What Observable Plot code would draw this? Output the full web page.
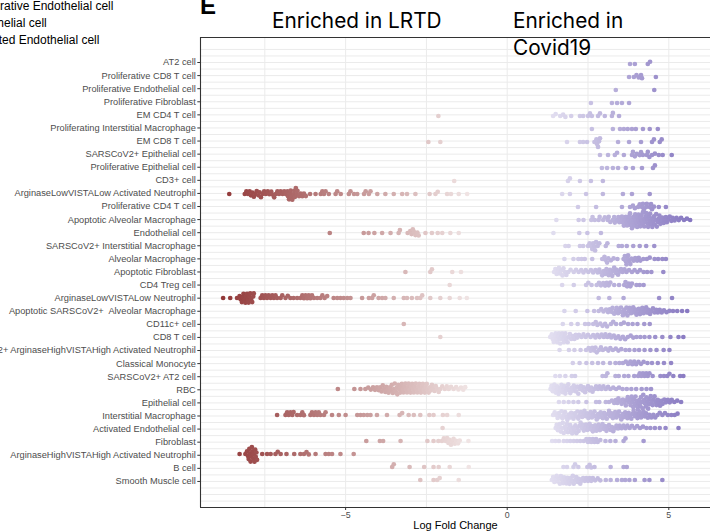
<!DOCTYPE html>
<html>
<head>
<meta charset="utf-8">
<script src="https://cdn.jsdelivr.net/npm/d3@7"></script>
<script src="https://cdn.jsdelivr.net/npm/@observablehq/plot@0.6"></script>
<style>
  body { margin: 0; background: #fff; }
  #wrap { position: relative; width: 710px; height: 532px; overflow: hidden; }
  #wrap svg { position: absolute; left: 0; top: 0; }
</style>
</head>
<body>
<div id="wrap"></div>
<script>
// Cell types, top to bottom
const cells = [
  "AT2 cell",
  "Proliferative CD8 T cell",
  "Proliferative Endothelial cell",
  "Proliferative Fibroblast",
  "EM CD4 T cell",
  "Proliferating Interstitial Macrophage",
  "EM CD8 T cell",
  "SARSCoV2+ Epithelial cell",
  "Proliferative Epithelial cell",
  "CD3+ cell",
  "ArginaseLowVISTALow Activated Neutrophil",
  "Proliferative CD4 T cell",
  "Apoptotic Alveolar Macrophage",
  "Endothelial cell",
  "SARSCoV2+ Interstitial Macrophage",
  "Alveolar Macrophage",
  "Apoptotic Fibroblast",
  "CD4 Treg cell",
  "ArginaseLowVISTALow Neutrophil",
  "Apoptotic SARSCoV2+  Alveolar Macrophage",
  "CD11c+ cell",
  "CD8 T cell",
  "SARSCoV2+ ArginaseHighVISTAHigh Activated Neutrophil",
  "Classical Monocyte",
  "SARSCoV2+ AT2 cell",
  "RBC",
  "Epithelial cell",
  "Interstitial Macrophage",
  "Activated Endothelial cell",
  "Fibroblast",
  "ArginaseHighVISTAHigh Activated Neutrophil",
  "B cell",
  "Smooth Muscle cell"
];

// Log fold change of each neighbourhood, one list per cell type (same order as cells)
const logFC = [
  /* AT2 cell */ [3.8, 3.95, 4.35, 4.42],
  /* Proliferative CD8 T cell */ [3.77, 3.92, 4.0, 4.07, 4.14, 4.17, 4.6],
  /* Proliferative Endothelial cell */ [3.36, 4.55],
  /* Proliferative Fibroblast */ [2.59, 3.24, 3.4, 3.55, 3.77],
  /* EM CD4 T cell */ [-2.13, 1.42, 1.5, 1.64, 1.73, 1.8, 1.98, 2.25, 2.35, 2.5, 2.56, 2.62, 2.81, 2.87, 3.02, 3.24, 3.27, 3.46],
  /* Proliferating Interstitial Macrophage */ [2.62, 3.27, 3.49, 3.61, 3.73, 3.86, 3.98, 4.2, 4.41, 4.66],
  /* EM CD8 T cell */ [-2.44, -2.07, 1.85, 2.25, 2.35, 2.47, 2.7, 2.76, 2.78, 2.81, 2.84, 2.87, 3.43, 3.77, 4.14, 4.48, 4.54, 4.72, 4.78],
  /* SARSCoV2+ Epithelial cell */ [2.87, 3.12, 3.33, 3.4, 3.61, 3.86, 3.89, 3.95, 4.01, 4.1, 4.14, 4.2, 4.32, 4.35, 4.4, 4.48, 4.57, 4.69, 4.81, 5.09],
  /* Proliferative Epithelial cell */ [2.93, 3.09, 3.27, 3.43, 3.67, 3.89, 4.17, 4.51, 4.57],
  /* CD3+ cell */ [-1.64, 1.88, 1.94, 2.25, 2.59, 2.96],
  /* ArginaseLowVISTALow Activated Neutrophil */ [-8.6, -8.12, -8.07, -8.02, -7.97, -7.93, -7.88, -7.84, -7.79, -7.75, -7.7, -7.66, -7.62, -7.57, -7.52, -7.47, -7.41, -7.36, -7.3, -7.26, -7.21, -7.16, -7.11, -7.06, -7.01, -6.95, -6.9, -6.85, -6.8, -6.78, -6.75, -6.72, -6.7, -6.68, -6.65, -6.61, -6.59, -6.57, -6.54, -6.51, -6.49, -6.44, -6.39, -6.34, -6.29, -6.23, -6.1, -5.93, -5.77, -5.72, -5.67, -5.62, -5.52, -5.31, -5.26, -5.15, -4.9, -4.85, -4.74, -4.64, -4.43, -4.38, -4.28, -4.23, -4.02, -3.77, -3.51, -3.25, -3.1, -2.84, -2.4, -2.22, -2.15, -1.86, -1.74, -1.5, -1.24, 1.7, 1.94, 2.44, 2.96, 3.58, 3.86, 4.41],
  /* Proliferative CD4 T cell */ [2.19, 2.75, 3.55, 3.8, 3.89, 3.95, 4.05, 4.1, 4.17, 4.2, 4.23, 4.3, 4.32, 4.41, 4.45, 4.48, 4.54, 4.69, 4.91],
  /* Apoptotic Alveolar Macrophage */ [1.52, 2.21, 2.36, 2.6, 2.64, 2.71, 2.83, 2.86, 2.97, 3.02, 3.11, 3.14, 3.19, 3.27, 3.31, 3.33, 3.4, 3.44, 3.47, 3.53, 3.55, 3.58, 3.61, 3.63, 3.67, 3.69, 3.71, 3.74, 3.77, 3.79, 3.8, 3.83, 3.85, 3.86, 3.89, 3.9, 3.93, 3.95, 3.96, 3.99, 4.01, 4.02, 4.05, 4.06, 4.09, 4.11, 4.12, 4.15, 4.16, 4.19, 4.2, 4.23, 4.24, 4.27, 4.29, 4.3, 4.33, 4.35, 4.36, 4.39, 4.41, 4.42, 4.45, 4.47, 4.49, 4.51, 4.54, 4.56, 4.59, 4.61, 4.63, 4.66, 4.69, 4.71, 4.74, 4.77, 4.8, 4.84, 4.87, 4.91, 4.94, 4.99, 5.03, 5.08, 5.12, 5.18, 5.24, 5.31, 5.38, 5.47, 5.56, 5.66],
  /* Endothelial cell */ [-5.49, -4.44, -4.29, -4.11, -3.87, -3.61, -3.36, -3.32, -3.08, -3.0, -2.96, -2.92, -2.88, -2.84, -2.78, -2.74, -2.53, -2.33, -2.15, -2.01, -1.76, -1.5, 1.43, 2.23, 2.48, 2.9],
  /* SARSCoV2+ Interstitial Macrophage */ [1.8, 1.9, 2.25, 2.35, 2.5, 2.55, 2.6, 2.63, 2.66, 2.7, 2.72, 2.75, 2.8, 2.85, 3.05, 3.1, 3.45, 3.55, 3.7, 3.9, 4.1, 4.3, 4.55],
  /* Alveolar Macrophage */ [1.77, 2.05, 2.2, 2.3, 2.4, 2.63, 2.94, 3.01, 3.04, 3.09, 3.13, 3.21, 3.29, 3.41, 3.6, 3.64, 3.67, 3.69, 3.72, 3.74, 3.78, 3.81, 3.84, 3.91, 3.96, 4.02, 4.07, 4.12, 4.21, 4.32, 4.41, 4.56, 4.67, 4.8, 4.91],
  /* Apoptotic Fibroblast */ [-3.15, -2.38, -2.33, -1.7, -1.43, 1.45, 1.49, 1.53, 1.57, 1.6, 1.63, 1.67, 1.71, 1.74, 1.79, 1.83, 1.89, 1.96, 2.06, 2.13, 2.21, 2.29, 2.36, 2.43, 2.51, 2.59, 2.66, 2.73, 2.8, 2.85, 2.9, 2.94, 2.99, 3.03, 3.07, 3.11, 3.14, 3.18, 3.21, 3.25, 3.28, 3.31, 3.35, 3.39, 3.43, 3.47, 3.52, 3.57, 3.63, 3.69, 3.77, 3.86, 3.94, 4.03, 4.11, 4.22, 4.33, 4.46, 4.83],
  /* CD4 Treg cell */ [-1.78, 1.7, 2.06, 2.44, 2.51, 2.61, 2.77, 2.84, 2.9, 2.97, 3.03, 3.08, 3.14, 3.19, 3.31, 3.46, 3.62, 3.66, 3.71, 3.76, 3.81, 3.86, 4.0, 4.1, 4.22],
  /* ArginaseLowVISTALow Neutrophil */ [-8.79, -8.57, -8.36, -8.28, -8.25, -8.21, -8.18, -8.16, -8.13, -8.1, -8.08, -8.05, -8.02, -8.0, -7.98, -7.95, -7.92, -7.89, -7.86, -7.84, -7.63, -7.58, -7.53, -7.48, -7.43, -7.38, -7.32, -7.27, -7.22, -7.17, -7.12, -7.01, -6.96, -6.86, -6.79, -6.71, -6.61, -6.5, -6.4, -6.34, -6.29, -6.24, -6.19, -6.14, -6.09, -6.04, -5.98, -5.88, -5.78, -5.72, -5.65, -5.57, -5.37, -5.26, -5.16, -5.06, -4.95, -4.85, -4.49, -4.28, -4.18, -4.13, -3.98, -3.87, -3.77, -3.51, -3.2, -3.1, -2.95, -2.79, -2.69, -2.63, -2.38, -2.07, -1.78, -1.47, -1.25, 2.83, 3.16, 3.6, 4.7, 5.1],
  /* Apoptotic SARSCoV2+ Alveolar Macrophage */ [1.77, 2.12, 2.48, 2.69, 2.83, 2.91, 2.98, 3.06, 3.12, 3.17, 3.23, 3.26, 3.31, 3.36, 3.39, 3.43, 3.47, 3.52, 3.55, 3.58, 3.62, 3.66, 3.69, 3.72, 3.76, 3.79, 3.83, 3.86, 3.9, 3.93, 3.97, 4.0, 4.04, 4.07, 4.11, 4.15, 4.18, 4.22, 4.26, 4.3, 4.33, 4.38, 4.42, 4.47, 4.51, 4.56, 4.61, 4.66, 4.72, 4.78, 4.85, 4.93, 5.02, 5.13, 5.26, 5.41, 5.57],
  /* CD11c+ cell */ [-3.2, 1.72, 1.98, 2.18, 2.41, 2.52, 2.66, 2.74, 2.79, 2.88, 2.95, 3.03, 3.09, 3.21, 3.28, 3.37, 3.52, 3.61, 3.74, 3.88, 4.03, 4.24, 4.41],
  /* CD8 T cell */ [-2.07, 1.33, 1.38, 1.41, 1.44, 1.47, 1.5, 1.52, 1.55, 1.57, 1.6, 1.62, 1.64, 1.67, 1.7, 1.72, 1.75, 1.78, 1.8, 1.83, 1.87, 1.9, 1.94, 1.98, 2.03, 2.08, 2.12, 2.17, 2.22, 2.3, 2.36, 2.43, 2.5, 2.58, 2.66, 2.73, 2.79, 2.86, 2.92, 2.99, 3.04, 3.1, 3.17, 3.22, 3.3, 3.36, 3.44, 3.5, 3.58, 3.65, 3.73, 3.82, 3.9, 4.0, 4.12, 4.25, 4.4, 4.58, 4.8, 5.05, 5.3, 5.45],
  /* SARSCoV2+ ArginaseHighVISTAHigh Activated Neutrophil */ [1.62, 1.91, 2.08, 2.27, 2.44, 2.52, 2.58, 2.63, 2.69, 2.73, 2.77, 2.84, 2.9, 2.96, 3.05, 3.13, 3.19, 3.27, 3.36, 3.44, 3.53, 3.66, 3.78, 3.94, 4.08, 4.25, 4.43, 4.62, 4.84, 5.02],
  /* Classical Monocyte */ [2.03, 2.24, 2.45, 2.63, 2.81, 2.97, 3.18, 3.35, 3.47, 3.58, 3.67, 3.74, 3.81, 3.87, 3.93, 3.99, 4.06, 4.14, 4.22, 4.34, 4.48, 4.66, 4.85, 5.07],
  /* SARSCoV2+ AT2 cell */ [1.49, 1.63, 1.8, 2.0, 2.1, 2.95, 3.05, 3.1, 3.35, 3.45, 3.62, 3.75, 3.93, 4.05, 4.1, 4.15, 4.2, 4.25, 4.3, 4.35, 4.4, 4.5, 4.74, 4.85, 4.95, 5.02, 5.14, 5.35, 5.45],
  /* RBC */ [-5.24, -4.73, -4.54, -4.39, -4.3, -4.22, -4.15, -4.09, -4.03, -3.98, -3.93, -3.89, -3.85, -3.81, -3.77, -3.74, -3.7, -3.67, -3.63, -3.6, -3.57, -3.54, -3.51, -3.48, -3.45, -3.42, -3.4, -3.37, -3.34, -3.31, -3.29, -3.26, -3.23, -3.21, -3.18, -3.15, -3.13, -3.1, -3.07, -3.05, -3.02, -2.99, -2.97, -2.94, -2.91, -2.89, -2.86, -2.83, -2.81, -2.78, -2.75, -2.72, -2.7, -2.67, -2.64, -2.61, -2.58, -2.55, -2.52, -2.49, -2.46, -2.43, -2.39, -2.36, -2.33, -2.29, -2.25, -2.21, -2.17, -2.12, -2.07, -2.01, -1.93, -1.87, -1.81, -1.74, -1.66, -1.58, -1.51, -1.43, -1.36, -1.3,
             1.34, 1.37, 1.41, 1.44, 1.46, 1.5, 1.53, 1.55, 1.59, 1.62, 1.64, 1.68, 1.71, 1.73, 1.77, 1.8, 1.82, 1.86, 1.89, 1.92, 1.95, 1.99, 2.02, 2.06, 2.09, 2.13, 2.17, 2.2, 2.24, 2.28, 2.33, 2.37, 2.41, 2.46, 2.5, 2.55, 2.6, 2.64, 2.7, 2.75, 2.81, 2.86, 2.92, 2.98, 3.05, 3.12, 3.19, 3.28, 3.37, 3.46, 3.57, 3.7, 3.84, 3.99, 4.16, 4.31, 4.45],
  /* Epithelial cell */ [1.6, 1.75, 1.9, 2.05, 2.2, 2.45, 2.75, 2.85, 3.05, 3.15, 3.24, 3.31, 3.36, 3.41, 3.44, 3.49, 3.54, 3.58, 3.63, 3.67, 3.7, 3.73, 3.77, 3.8, 3.82, 3.85, 3.87, 3.9, 3.92, 3.95, 3.97, 4.0, 4.02, 4.04, 4.07, 4.09, 4.12, 4.14, 4.17, 4.19, 4.21, 4.24, 4.26, 4.29, 4.31, 4.34, 4.36, 4.39, 4.41, 4.44, 4.47, 4.5, 4.53, 4.56, 4.59, 4.62, 4.66, 4.69, 4.73, 4.77, 4.81, 4.86, 4.91, 4.97, 5.03, 5.09, 5.17, 5.26, 5.38],
  /* Interstitial Macrophage */ [-7.12, -6.86, -6.81, -6.76, -6.71, -6.65, -6.61, -6.5, -6.4, -6.34, -6.29, -6.09, -6.04, -5.98, -5.93, -5.88, -5.83, -5.78, -5.67, -5.62, -5.42, -5.21, -5.0, -4.64, -4.54, -4.44, -4.33, -4.23, -4.03, -3.72, -3.33, -3.25, -3.05, -2.89, -2.69, -2.41, -2.28, -1.99, -1.86, -1.5,
             1.42, 1.47, 1.52, 1.56, 1.6, 1.64, 1.68, 1.71, 1.75, 1.79, 1.83, 1.86, 1.9, 1.94, 1.98, 2.02, 2.05, 2.09, 2.13, 2.17, 2.2, 2.24, 2.28, 2.32, 2.36, 2.39, 2.43, 2.47, 2.51, 2.55, 2.58, 2.62, 2.66, 2.7, 2.74, 2.77, 2.81, 2.85, 2.89, 2.93, 2.96, 3.0, 3.04, 3.08, 3.12, 3.15, 3.19, 3.23, 3.27, 3.31, 3.34, 3.38, 3.42, 3.46, 3.5, 3.53, 3.57, 3.61, 3.65, 3.69, 3.72, 3.76, 3.8, 3.84, 3.88, 3.91, 3.95, 3.99, 4.03, 4.07, 4.1, 4.14, 4.18, 4.22, 4.26, 4.3, 4.35, 4.4, 4.46, 4.52, 4.58, 4.65, 4.72, 4.8, 4.88, 4.97, 5.08, 5.18, 5.27],
  /* Activated Endothelial cell */ [-2.0, 1.5, 1.53, 1.57, 1.6, 1.63, 1.66, 1.7, 1.72, 1.75, 1.79, 1.82, 1.85, 1.88, 1.91, 1.95, 1.98, 2.01, 2.04, 2.08, 2.11, 2.14, 2.17, 2.21, 2.24, 2.27, 2.31, 2.34, 2.37, 2.41, 2.44, 2.48, 2.51, 2.55, 2.58, 2.62, 2.65, 2.69, 2.72, 2.76, 2.8, 2.83, 2.87, 2.91, 2.95, 2.99, 3.03, 3.07, 3.11, 3.15, 3.19, 3.24, 3.28, 3.33, 3.38, 3.43, 3.48, 3.54, 3.6, 3.66, 3.72, 3.79, 3.86, 3.94, 4.02, 4.11, 4.2, 4.31, 4.43, 4.57, 4.72, 4.9, 5.3],
  /* Fibroblast */ [-4.36, -3.94, -3.84, -3.3, -2.47, -2.28, -2.13, -2.02, -1.96, -1.9, -1.86, -1.82, -1.78, -1.74, -1.7, -1.66, -1.62, -1.58, -1.52, -1.47, -1.2, 1.39, 1.49, 1.6, 1.75, 1.85, 1.95, 2.06, 2.16, 2.26, 2.37, 2.45, 2.5, 2.55, 2.6, 2.65, 2.7, 2.75, 2.8, 2.88, 3.04, 3.19, 3.35, 3.6, 3.66, 4.22],
  /* ArginaseHighVISTAHigh Activated Neutrophil */ [-8.28, -8.1, -8.05, -8.02, -8.0, -7.98, -7.96, -7.94, -7.92, -7.9, -7.88, -7.86, -7.84, -7.82, -7.8, -7.78, -7.76, -7.74, -7.58, -7.43, -7.32, -7.17, -7.1, -7.01, -6.83, -6.59, -6.4, -6.29, -6.21, -6.14, -5.93, -5.62, -5.52, -5.42, -5.16, -4.75],
  /* B cell */ [-3.56, -3.51, -3.02, -2.57, -2.28, -2.12, -1.78, -1.19, 1.74, 1.85, 2.05, 2.1, 2.2, 2.48, 2.55, 2.6, 2.7, 3.2, 3.6, 3.7],
  /* Smooth Muscle cell */ [-2.69, -2.28, -2.17, -2.09, -1.5, 1.38, 1.42, 1.46, 1.5, 1.53, 1.56, 1.6, 1.63, 1.66, 1.7, 1.73, 1.76, 1.8, 1.83, 1.86, 1.9, 1.93, 1.96, 2.0, 2.03, 2.06, 2.1, 2.14, 2.18, 2.22, 2.26, 2.3, 2.35, 2.4, 2.45, 2.5, 2.55, 2.6, 2.65, 2.72, 2.8, 2.88, 3.05, 3.2, 3.4, 3.55, 3.65, 3.78, 3.95, 4.25, 4.4, 4.8]
];

const xDomain = [-9.49, 6.29];
const xTicks = [-5, 0, 5];
const xMinor = [-7.5, -2.5, 2.5];
// row index range covered by the panel (rows sit at 0 .. cells.length - 1)
const rowDomain = [-1.91, 33.99];
const legendLabels = ["Proliferative Endothelial cell", "Endothelial cell", "Activated Endothelial cell"];

const W = 710, H = 532;
const mL = 200, mR = 0, mT = 37, mB = 25;
const font = "'Liberation Sans', Arial, Helvetica, sans-serif";
const titleFont = "Inter, 'Liberation Sans', sans-serif";

// one record per neighbourhood
const points = [];
cells.forEach((cell, i) => logFC[i].forEach(v => points.push({cell, lfc: v})));
points.sort((a, b) => a.lfc - b.lfc);

// grid lines on every row and half-way between rows
const rowGrid = [];
for (let k = -1; k <= cells.length; k++) { rowGrid.push(k); rowGrid.push(k + 0.5); }

const wrap = document.getElementById("wrap");

// panel, grid and axes
const bg = Plot.plot({
  width: W, height: H,
  marginLeft: mL, marginRight: mR, marginTop: mT, marginBottom: mB,
  style: {fontFamily: font, background: "transparent", overflow: "visible"},
  x: {domain: xDomain},
  y: {domain: rowDomain, reverse: true},
  marks: [
    Plot.ruleY(rowGrid.filter(d => d > rowDomain[0] && d < rowDomain[1]), {stroke: "#ebebeb", strokeWidth: 1}),
    Plot.ruleX(xMinor, {stroke: "#ebebeb", strokeWidth: 1}),
    Plot.ruleX(xTicks, {stroke: "#ebebeb", strokeWidth: 1}),
    Plot.ruleY([rowDomain[0], rowDomain[1]], {stroke: "#333333", strokeWidth: 1.1}),
    Plot.ruleX([xDomain[0]], {stroke: "#333333", strokeWidth: 1.1}),
    Plot.axisX({ticks: xTicks, tickSize: 3, tickPadding: 1, fontSize: 8.8, label: null, stroke: "#333333", fill: "#4d4d4d"}),
    Plot.axisY({ticks: d3.range(cells.length), tickFormat: i => cells[i], tickSize: 2.7, tickPadding: 2, fontSize: 9.25, label: null, stroke: "#333333", fill: "#4d4d4d"})
  ]
});
wrap.appendChild(bg);

// beeswarm of neighbourhoods, one facet row per cell type
const step = (H - mT - mB) / (rowDomain[1] - rowDomain[0]);
const fgTop = mT + (-0.5 - rowDomain[0]) * step;
const fgBottom = mT + (cells.length - 0.5 - rowDomain[0]) * step;
const fg = Plot.plot({
  width: W, height: H,
  marginLeft: mL, marginRight: mR, marginTop: fgTop, marginBottom: H - fgBottom,
  style: {background: "transparent", overflow: "visible"},
  x: {domain: xDomain, axis: null},
  fy: {domain: cells, padding: 0, axis: null},
  color: {type: "linear", domain: [-9.4, 0, 6], range: ["#8a2a2a", "#ffffff", "#7f6fbd"]},
  marks: [
    Plot.dot(points, Plot.dodgeY({anchor: "middle", padding: -1.5, x: "lfc", fy: "cell", r: 2.35, fill: "lfc"}))
  ]
});
wrap.appendChild(fg);

// headings, axis title and the clipped legend entries on the left
const over = d3.create("svg").attr("width", W).attr("height", H).style("overflow", "hidden");
const tx = (x, y, s, size, opts = {}) => over.append("text")
  .attr("x", x).attr("y", y).text(s)
  .attr("font-family", opts.family || font)
  .attr("font-size", size)
  .attr("font-weight", opts.weight || 400)
  .attr("fill", opts.fill || "#000")
  .attr("text-anchor", opts.anchor || "start");
legendLabels.forEach((s, i) => tx(-34, 9.5 + i * 17, s, 12));
tx(200, 14, "E", 24, {weight: 700});
tx(272, 27.5, "Enriched in LRTD", 20.8, {family: titleFont});
tx(513, 27.5, "Enriched in", 20.8, {family: titleFont});
tx(513, 55, "Covid19", 20.8, {family: titleFont});
tx(455.5, 528.5, "Log Fold Change", 11, {anchor: "middle"});
wrap.appendChild(over.node());
</script>
</body>
</html>
